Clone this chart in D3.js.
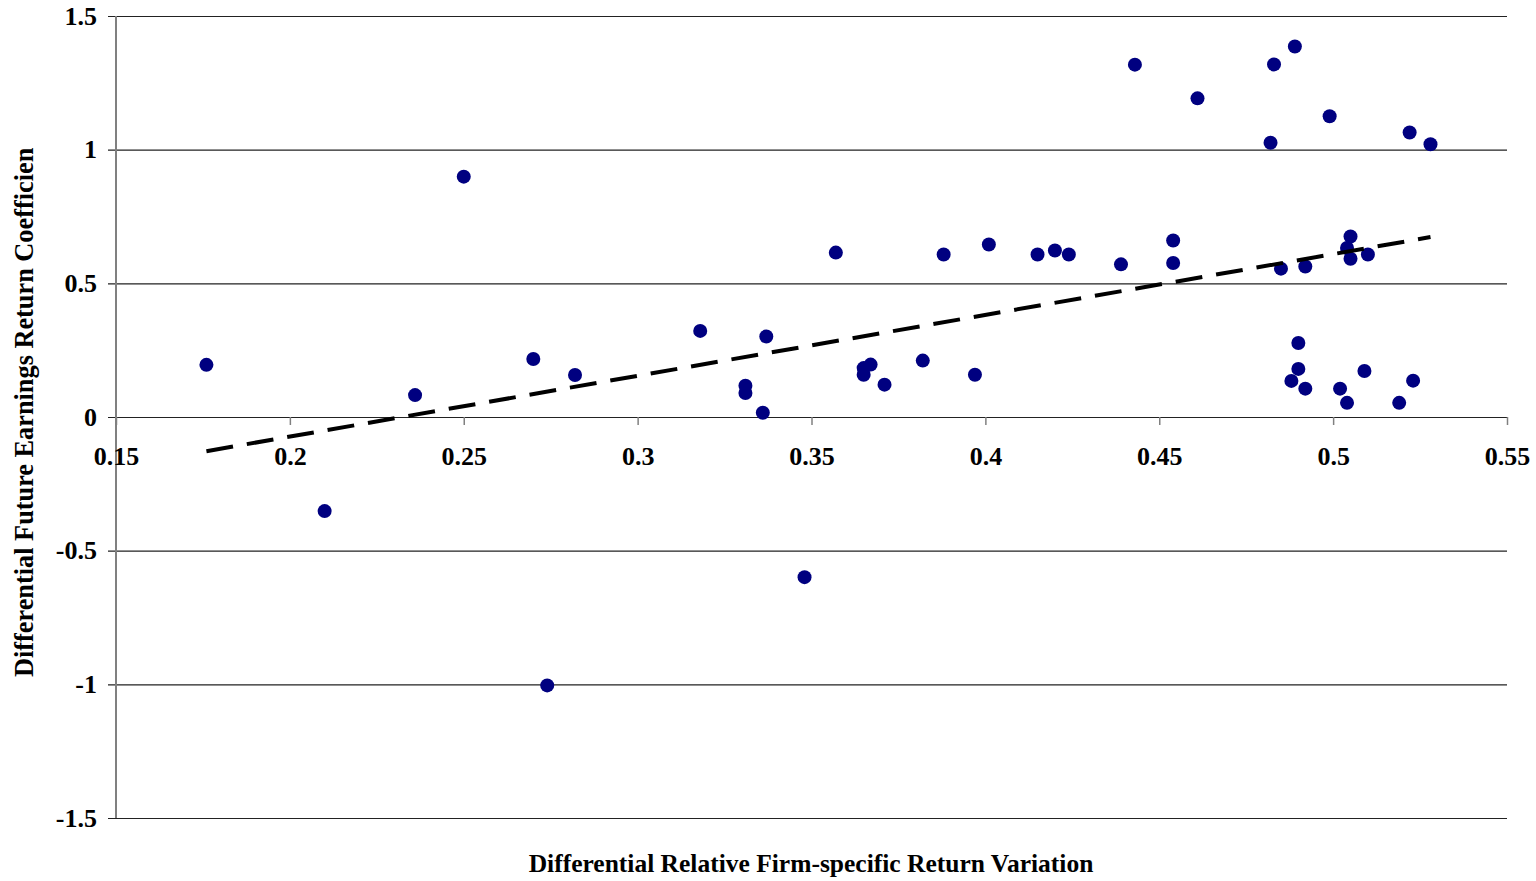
<!DOCTYPE html>
<html>
<head>
<meta charset="utf-8">
<script src="https://cdn.jsdelivr.net/npm/d3@7"></script>
<style>
  body { margin: 0; background: #fff; }
  text { font-family: "Liberation Serif", "Times New Roman", serif; font-weight: bold; }
</style>
</head>
<body>
<div id="chart"></div>
<script>
// data
var xValues = [0.176, 0.210, 0.236, 0.250, 0.270, 0.274, 0.282, 0.318, 0.331, 0.331,
  0.336, 0.337, 0.348, 0.357, 0.365, 0.365, 0.367, 0.371, 0.382, 0.388,
  0.397, 0.401, 0.415, 0.420, 0.424, 0.439, 0.443, 0.454, 0.454, 0.461,
  0.482, 0.483, 0.485, 0.488, 0.489, 0.490, 0.490, 0.492, 0.492, 0.499,
  0.502, 0.504, 0.504, 0.505, 0.505, 0.509, 0.510, 0.519, 0.522, 0.523, 0.528];
var yValues = [0.195, -0.352, 0.082, 0.899, 0.217, -1.004, 0.157, 0.322, 0.117, 0.090,
  0.016, 0.301, -0.599, 0.615, 0.183, 0.158, 0.196, 0.121, 0.211, 0.608,
  0.158, 0.645, 0.608, 0.623, 0.608, 0.571, 1.318, 0.660, 0.576, 1.192,
  1.026, 1.319, 0.555, 0.135, 1.386, 0.277, 0.180, 0.563, 0.106, 1.125,
  0.106, 0.632, 0.053, 0.675, 0.592, 0.172, 0.608, 0.053, 1.064, 0.136, 1.020];
// linear trend line endpoints (as drawn)
var trendX = [0.176, 0.528];
var trendY = [-0.128, 0.673];

var xTicks = [0.15, 0.2, 0.25, 0.3, 0.35, 0.4, 0.45, 0.5, 0.55];
var xTickLabels = ["0.15", "0.2", "0.25", "0.3", "0.35", "0.4", "0.45", "0.5", "0.55"];
var yTicks = [-1.5, -1, -0.5, 0, 0.5, 1, 1.5];
var yTickLabels = ["-1.5", "-1", "-0.5", "0", "0.5", "1", "1.5"];

var xTitle = "Differential Relative Firm-specific Return Variation";
var yTitle = "Differential Future Earnings Return Coefficient";

var svgWidth = 1536;
var svgHeight = 881;
var margin = { top: 16, right: 29, bottom: 63, left: 116 };
var chartWidth = svgWidth - margin.left - margin.right;
var chartHeight = svgHeight - margin.top - margin.bottom;

var svg = d3.select("#chart")
  .append("svg")
  .attr("width", svgWidth)
  .attr("height", svgHeight);

var chartGroup = svg.append("g")
  .attr("transform", `translate(${margin.left}, ${margin.top})`);

var xScale = d3.scaleLinear().domain([0.15, 0.55]).range([0, chartWidth]);
var yScale = d3.scaleLinear().domain([-1.5, 1.5]).range([chartHeight, 0]);

// horizontal gridlines with y tick labels
var yAxis = d3.axisLeft(yScale)
  .tickValues(yTicks)
  .tickSize(-chartWidth - 8)
  .tickPadding(11)
  .tickFormat((d, i) => yTickLabels[i]);

var yAxisG = chartGroup.append("g")
  .attr("transform", "translate(-8, 0)")
  .call(yAxis);
yAxisG.select(".domain").remove();
yAxisG.selectAll("line").attr("stroke", "#222").attr("stroke-width", 1.2);
yAxisG.selectAll("text")
  .attr("font-size", 26)
  .attr("font-family", "Liberation Serif")
  .attr("font-weight", "bold")
  .attr("fill", "#000");

// vertical axis line
chartGroup.append("line")
  .attr("x1", 0).attr("x2", 0)
  .attr("y1", 0).attr("y2", chartHeight)
  .attr("stroke", "#808080")
  .attr("stroke-width", 2);

// x axis sits at y = 0
var xAxis = d3.axisBottom(xScale)
  .tickValues(xTicks)
  .tickSize(8)
  .tickPadding(22)
  .tickFormat((d, i) => xTickLabels[i]);

var xAxisG = chartGroup.append("g")
  .attr("transform", `translate(0, ${yScale(0)})`)
  .call(xAxis);
xAxisG.select(".domain").remove();
xAxisG.selectAll("line").attr("stroke", "#808080").attr("stroke-width", 1.5);
xAxisG.selectAll("text")
  .attr("font-size", 26)
  .attr("font-family", "Liberation Serif")
  .attr("font-weight", "bold")
  .attr("fill", "#000");

// points
var points = xValues.map((x, i) => ({ x: x, y: yValues[i] }));
chartGroup.selectAll("circle")
  .data(points)
  .enter()
  .append("circle")
  .attr("cx", d => xScale(d.x))
  .attr("cy", d => yScale(d.y))
  .attr("r", 7)
  .attr("fill", "#000080");

// trend line
var trend = trendX.map((x, i) => ({ x: x, y: trendY[i] }));
chartGroup.append("path")
  .datum(trend)
  .attr("d", d3.line().x(d => xScale(d.x)).y(d => yScale(d.y)))
  .attr("fill", "none")
  .attr("stroke", "#000")
  .attr("stroke-width", 4)
  .attr("stroke-dasharray", "27,14");

// axis titles
svg.append("text")
  .attr("x", 811)
  .attr("y", 872)
  .attr("text-anchor", "middle")
  .attr("font-size", 25.5)
  .text(xTitle);

svg.append("clipPath")
  .attr("id", "yclip")
  .append("rect")
  .attr("x", 0).attr("y", 148)
  .attr("width", 60).attr("height", 600);

svg.append("g")
  .attr("clip-path", "url(#yclip)")
  .append("text")
  .attr("transform", "translate(33, 677) rotate(-90)")
  .attr("text-anchor", "start")
  .attr("font-size", 26.3)
  .text(yTitle);
</script>
</body>
</html>
